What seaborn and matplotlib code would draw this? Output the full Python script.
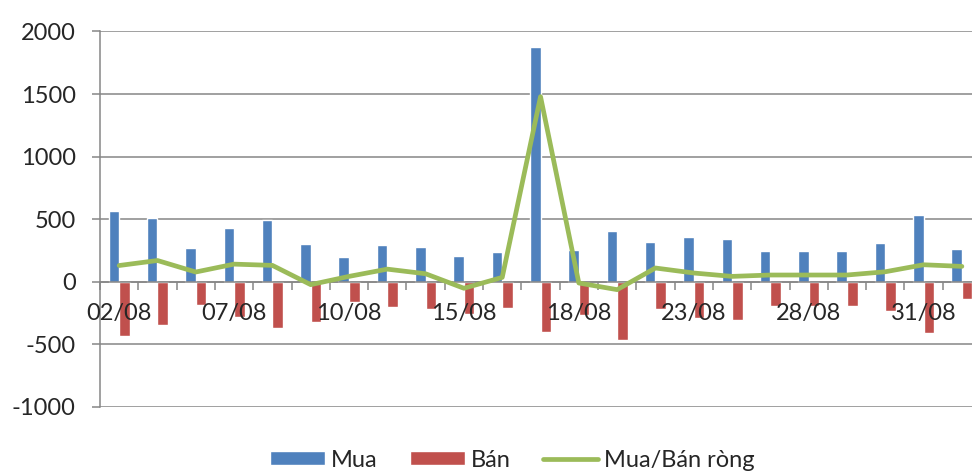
import numpy as np
import pandas as pd
import seaborn as sns
import matplotlib.pyplot as plt
import matplotlib.transforms as mtransforms
from matplotlib.patches import Patch
from matplotlib.lines import Line2D
from matplotlib.ticker import FixedLocator

# Data
dates = ['02/08', '03/08', '06/08', '07/08', '08/08', '09/08', '10/08', '13/08',
         '14/08', '15/08', '16/08', '17/08', '18/08', '21/08', '22/08', '23/08',
         '24/08', '27/08', '28/08', '29/08', '30/08', '31/08', '01/09']
mua = [564, 511, 270, 426, 490, 302, 201, 294, 275, 206, 233, 1874,
       254, 407, 320, 360, 344, 243, 243, 243, 307, 534, 259]
ban = [-434, -347, -188, -286, -368, -320, -161, -201, -217, -259, -209, -402,
       -265, -466, -217, -291, -307, -196, -196, -196, -233, -408, -138]
rong = [129, 169, 77, 140, 130, -24, 42, 100, 63, -53, 34, 1479,
        -11, -64, 109, 69, 42, 53, 53, 53, 79, 135, 122]
shown_labels = ['02/08', '07/08', '10/08', '15/08', '18/08', '23/08', '28/08', '31/08']
y_ticks = [-1000, -500, 0, 500, 1000, 1500, 2000]

blue, red, green = '#4F81BD', '#C0504D', '#9BBB59'
grid_col = '#868686'
fs = 17

bars = pd.DataFrame({'Ngày': dates * 2,
                     'value': mua + ban,
                     'series': ['Mua'] * len(dates) + ['Bán'] * len(dates)})
net = pd.DataFrame({'Ngày': dates, 'value': rong})

sns.set_style('white')
plt.rcParams['font.family'] = ['Lato', 'DejaVu Sans']
plt.rcParams['font.size'] = fs
plt.rcParams['axes.unicode_minus'] = False

fig = plt.figure(figsize=(9.72, 4.72), dpi=100)
ax = fig.add_axes([0.1029, 0.1383, 0.9064, 0.795])

# horizontal gridlines behind the bars
for v in y_ticks:
    ax.axhline(v, color=grid_col, linewidth=1.1, zorder=0.5)

sns.barplot(data=bars, x='Ngày', y='value', hue='series', order=dates,
            hue_order=['Mua', 'Bán'], palette=[blue, red], width=0.55,
            saturation=1, legend=False, ax=ax, zorder=1)
sns.pointplot(data=net, x='Ngày', y='value', order=dates, color=green,
              markers='', errorbar=None, ax=ax, zorder=4,
              linewidth=3.4)
for ln in ax.lines[len(y_ticks):]:
    ln.set_solid_capstyle('round')
    ln.set_solid_joinstyle('round')

ax.set_xlim(-0.5, len(dates) - 0.5)
ax.set_ylim(-1000, 2000)
ax.set_yticks(y_ticks)
ax.set_xlabel('')
ax.set_ylabel('')

# category axis sits at zero, ticks at group boundaries
ax.spines['bottom'].set_position(('data', 0))
for s in ['top', 'right']:
    ax.spines[s].set_visible(False)
for s in ['left', 'bottom']:
    ax.spines[s].set_color(grid_col)
    ax.spines[s].set_linewidth(1.1)

ax.set_xticks([])
ax.xaxis.set_minor_locator(FixedLocator(np.arange(-0.5, len(dates), 1)))
ax.tick_params(axis='x', which='minor', length=5.5, width=1.1, color=grid_col,
               direction='out', bottom=True)
ax.tick_params(axis='y', length=5.5, width=1.1, color=grid_col, pad=12,
               labelsize=fs, left=True)

# date labels hang a little below the zero axis, drawn over the bars
off = ax.transData + mtransforms.ScaledTranslation(0, -0.32, fig.dpi_scale_trans)
for lab in shown_labels:
    ax.text(dates.index(lab), 0, lab, transform=off, ha='center', va='center',
            fontsize=fs, zorder=3)

handles = [Patch(facecolor=blue, label='Mua'),
           Patch(facecolor=red, label='Bán'),
           Line2D([], [], color=green, linewidth=3.4, label='Mua/Bán ròng')]
fig.legend(handles=handles, loc='center', bbox_to_anchor=(0.527, 0.025),
           ncol=3, frameon=False, handlelength=2.3, handleheight=0.55,
           handletextpad=0.25, columnspacing=1.4, fontsize=fs)

fig.savefig('out.png', dpi=100)
